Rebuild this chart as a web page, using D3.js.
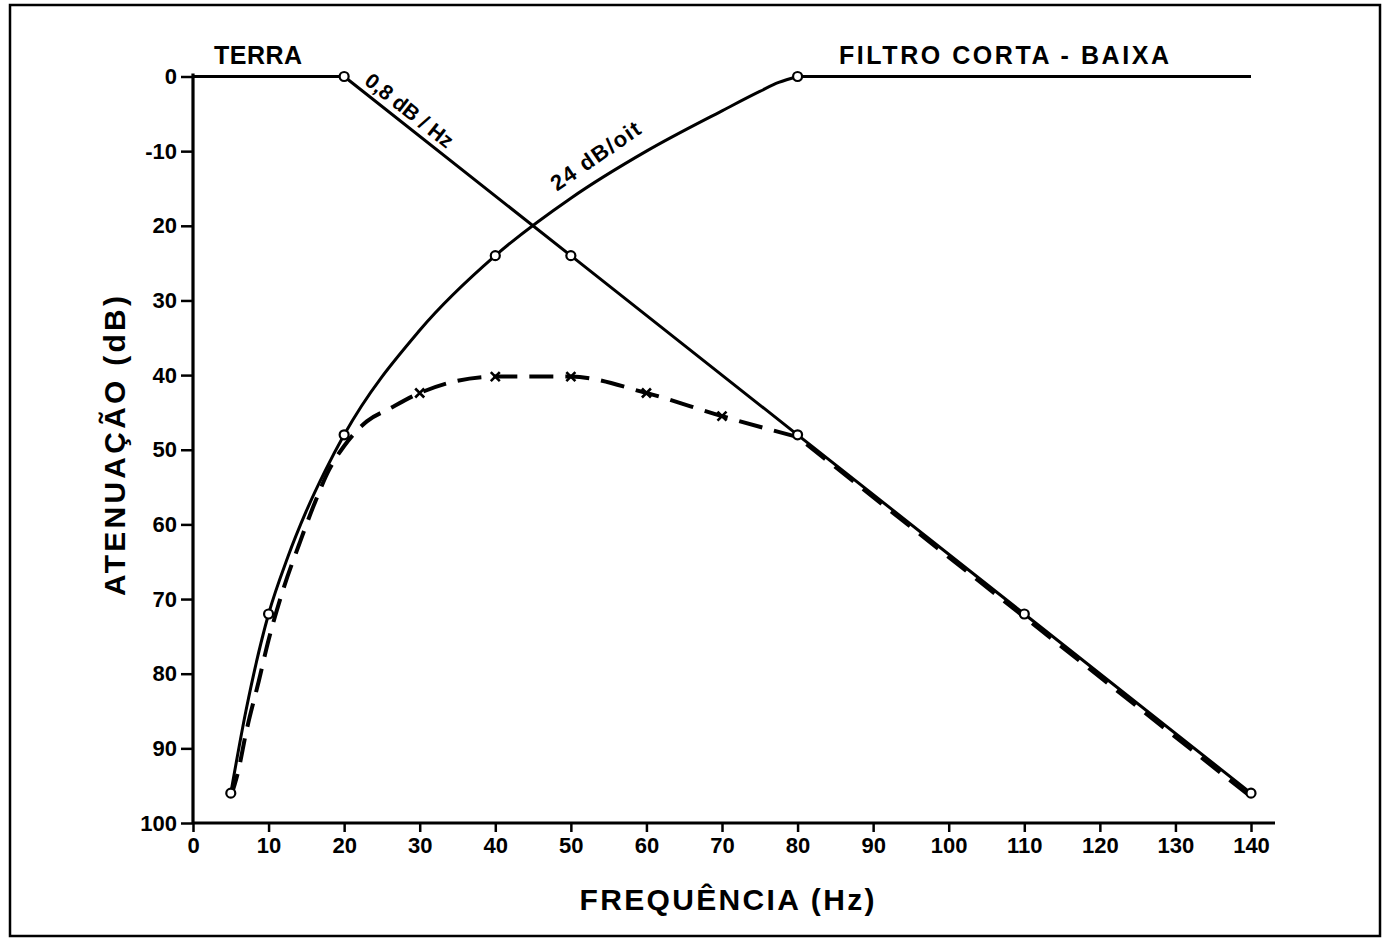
<!DOCTYPE html>
<html>
<head>
<meta charset="utf-8">
<script src="https://cdn.jsdelivr.net/npm/d3@7"></script>
<style>
  body { margin: 0; background: #fff; }
  svg { display: block; }
  text { font-family: "Liberation Sans", Arial, sans-serif; font-weight: bold; fill: #000; }
</style>
</head>
<body>
<svg id="chart" width="1386" height="938"></svg>
<script>
// Axis ticks
const freqTicks = [0, 10, 20, 30, 40, 50, 60, 70, 80, 90, 100, 110, 120, 130, 140];
const dbTicks = [0, 10, 20, 30, 40, 50, 60, 70, 80, 90, 100];
const dbTickLabels = ["0", "-10", "20", "30", "40", "50", "60", "70", "80", "90", "100"];

// Ground (TERRA) attenuation: flat to 20 Hz, then 0,8 dB/Hz
const terraFreq = [0, 20, 50, 80, 110, 140];
const terraDb = [0, 0, 24, 48, 72, 96];
const terraMarkFreq = [20, 50, 80, 110, 140];

// High-pass filter (FILTRO CORTA-BAIXA), 24 dB/octave below 80 Hz
const filtroFreq = [5, 7, 10, 12.5, 15, 17.5, 20, 30, 40, 50, 60, 70, 75, 77.5, 80];
const filtroDb = [96, 85, 72, 64.5, 58.2, 52.8, 48, 34, 24, 16.3, 10, 4.6, 2, 0.8, 0];
const filtroFlatFreq = [80, 140];
const filtroFlatDb = [0, 0];
const filtroMarkFreq = [5, 10, 20, 40, 80];

// Resulting attenuation (dashed): curved part up to 80 Hz, straight part above
const totalFreq = [5, 6, 7, 8.7, 10, 12, 14, 16, 18, 20, 23, 26, 30, 40, 50, 60, 70, 80];
const totalDb = [96.5, 93, 88, 81, 75.5, 68.5, 62.8, 57.4, 52.7, 49.5, 46.2, 44.5, 42.4, 40.2, 40.2, 42.4, 45.5, 48.3];
const totalTailFreq = [80, 110, 140];
const totalTailDb = [48.3, 72.4, 96.5];
const totalMarkFreq = [30, 40, 50, 60, 70];

const svg = d3.select("#chart");

const x = d3.scaleLinear().domain([0, 140]).range([193, 1251]);
const y = d3.scaleLinear().domain([0, 100]).range([76.5, 823]);

// outer frame
svg.append("rect")
  .attr("x", 10).attr("y", 5).attr("width", 1370).attr("height", 931)
  .attr("fill", "none").attr("stroke", "#000").attr("stroke-width", 2.5);

// Y axis
const yAxis = svg.append("g")
  .attr("transform", `translate(${x(0)},0)`)
  .call(d3.axisLeft(y).tickValues(dbTicks)
    .tickFormat((d, i) => dbTickLabels[i]).tickSize(12).tickPadding(4));
yAxis.select(".domain").remove();
yAxis.selectAll(".tick line").attr("stroke", "#000").attr("stroke-width", 2.5);
yAxis.selectAll(".tick text").attr("font-size", 22).attr("fill", "#000")
  .attr("font-family", "Liberation Sans, Arial, sans-serif").attr("font-weight", "bold");
svg.append("line")
  .attr("x1", x(0)).attr("x2", x(0)).attr("y1", y(0) - 3).attr("y2", y(100))
  .attr("stroke", "#000").attr("stroke-width", 3.2);

// X axis
const xAxis = svg.append("g")
  .attr("transform", `translate(0,${y(100)})`)
  .call(d3.axisBottom(x).tickValues(freqTicks).tickSize(9).tickPadding(5));
xAxis.select(".domain").remove();
xAxis.selectAll(".tick line").attr("stroke", "#000").attr("stroke-width", 2.5);
xAxis.selectAll(".tick text").attr("font-size", 22).attr("fill", "#000")
  .attr("font-family", "Liberation Sans, Arial, sans-serif").attr("font-weight", "bold");
svg.append("line")
  .attr("x1", x(0)).attr("x2", x(140) + 24).attr("y1", y(100)).attr("y2", y(100))
  .attr("stroke", "#000").attr("stroke-width", 3.2);

// axis titles
svg.append("text")
  .attr("transform", `translate(125,${y(49.5)}) rotate(-90)`)
  .attr("text-anchor", "middle").attr("font-size", 30)
  .attr("textLength", 300).attr("lengthAdjust", "spacing")
  .text("ATENUAÇÃO (dB)");
svg.append("text")
  .attr("x", 727).attr("y", 910)
  .attr("text-anchor", "middle").attr("font-size", 30)
  .attr("textLength", 295).attr("lengthAdjust", "spacing")
  .text("FREQUÊNCIA (Hz)");

// curve titles
svg.append("text").attr("x", 258).attr("y", 64).attr("text-anchor", "middle")
  .attr("font-size", 25).attr("textLength", 88).attr("lengthAdjust", "spacing").text("TERRA");
svg.append("text").attr("x", 1004).attr("y", 64).attr("text-anchor", "middle")
  .attr("font-size", 25).attr("textLength", 330).attr("lengthAdjust", "spacing").text("FILTRO  CORTA - BAIXA");

const pts = (fs, ds) => fs.map((f, i) => [f, ds[i]]);
const lookup = (fs, ds, f) => ds[fs.indexOf(f)];

const lineLin = d3.line().x(d => x(d[0])).y(d => y(d[1]));
const lineSmooth = d3.line().x(d => x(d[0])).y(d => y(d[1])).curve(d3.curveMonotoneX);
// join a smooth part and a straight continuation into one path
const joined = (a, b) => lineSmooth(a) + lineLin(b).replace(/^M/, "L");

// dashed resulting curve
svg.append("path")
  .attr("d", joined(pts(totalFreq, totalDb), pts(totalTailFreq, totalTailDb)))
  .attr("fill", "none").attr("stroke", "#000")
  .attr("stroke-width", 4).attr("stroke-dasharray", "24 12");

// ground line
svg.append("path").datum(pts(terraFreq, terraDb))
  .attr("d", lineLin).attr("fill", "none").attr("stroke", "#000")
  .attr("stroke-width", 3).attr("stroke-linejoin", "round");

// filter curve
svg.append("path")
  .attr("d", joined(pts(filtroFreq, filtroDb), pts(filtroFlatFreq, filtroFlatDb)))
  .attr("fill", "none").attr("stroke", "#000").attr("stroke-width", 3);

// x markers on resulting curve
const xs = 4.5;
svg.append("g").selectAll("path").data(totalMarkFreq).join("path")
  .attr("d", f => {
    const cx = x(f), cy = y(lookup(totalFreq, totalDb, f));
    return `M${cx - xs},${cy - xs}L${cx + xs},${cy + xs}M${cx + xs},${cy - xs}L${cx - xs},${cy + xs}`;
  })
  .attr("stroke", "#000").attr("stroke-width", 2.6);

// circle markers
const circ = (fs, ds, marks) => svg.append("g").selectAll("circle").data(marks).join("circle")
  .attr("cx", f => x(f)).attr("cy", f => y(lookup(fs, ds, f)))
  .attr("r", 4.5).attr("fill", "#fff").attr("stroke", "#000").attr("stroke-width", 2.2);
circ(terraFreq, terraDb, terraMarkFreq);
circ(filtroFreq, filtroDb, filtroMarkFreq);

// slope labels placed along a chord of their curves
function slopeLabel(f0, d0, f1, d1, t, off, txt, size, len) {
  const ax = x(f0), ay = y(d0), bx = x(f1), by = y(d1);
  const ang = Math.atan2(by - ay, bx - ax);
  const px = ax + (bx - ax) * t, py = ay + (by - ay) * t;
  const nx = Math.sin(ang), ny = -Math.cos(ang);
  const cx = px + nx * off, cy = py + ny * off;
  svg.append("text")
    .attr("transform", `translate(${cx},${cy}) rotate(${ang * 180 / Math.PI})`)
    .attr("text-anchor", "middle").attr("dominant-baseline", "central")
    .attr("font-size", size).attr("textLength", len).attr("lengthAdjust", "spacing")
    .text(txt);
}
slopeLabel(20, 0, 50, 24, 0.25, 14, "0,8 dB / Hz", 21, 106);
slopeLabel(40, 24, 60, 10, 0.757, 25, "24 dB/oit", 22, 104);
</script>
</body>
</html>
